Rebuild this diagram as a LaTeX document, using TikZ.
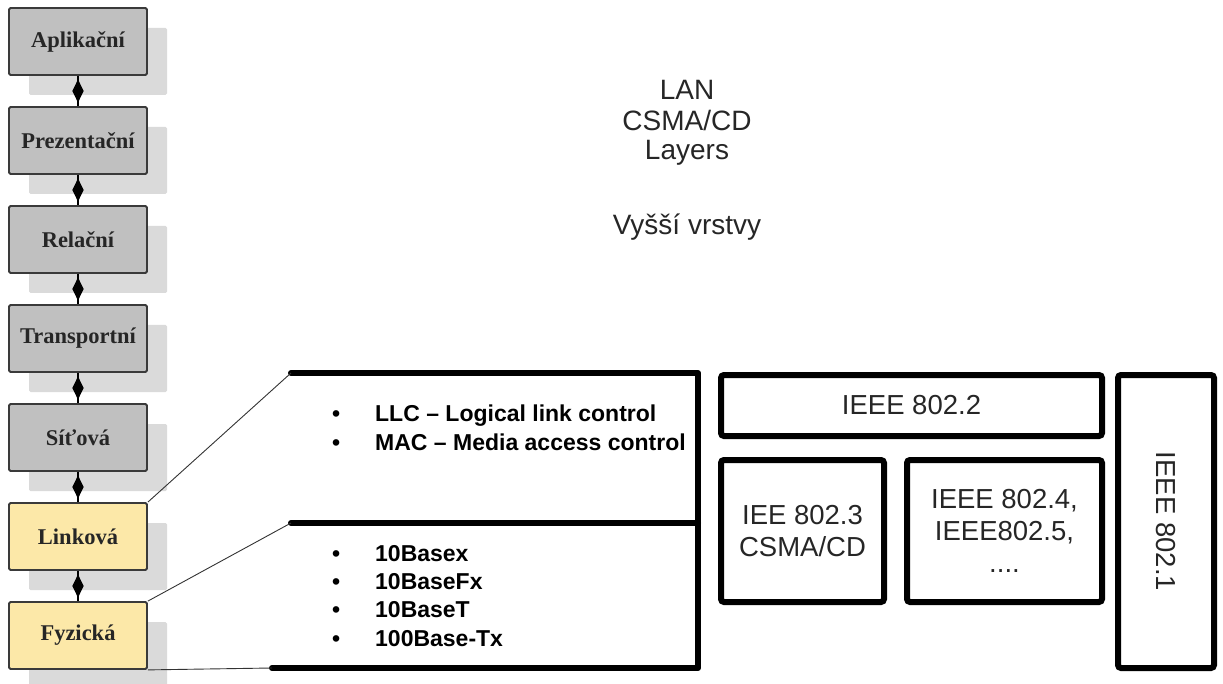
\documentclass[tikz,border=0pt]{standalone}
\usepackage{fontspec}
\setmainfont{Liberation Serif}
\setsansfont{Liberation Sans}
\usetikzlibrary{shadows,shapes.geometric}
\definecolor{laygray}{HTML}{C0C0C0}
\definecolor{layyellow}{HTML}{FCE8A8}
\definecolor{shadowgray}{HTML}{DADADA}
\definecolor{layborder}{HTML}{3A3A3A}
\tikzset{
  layer/.style={draw=layborder, line width=1.8pt, rounded corners=1.5pt, minimum width=138pt, minimum height=67pt,
    inner sep=0pt, font=\fontsize{22.5}{26}\selectfont\bfseries, text=black!85,
    drop shadow={shadow xshift=20pt, shadow yshift=-20pt, fill=shadowgray, opacity=1, draw=none}},
  upper/.style={layer, fill=laygray},
  lower/.style={layer, fill=layyellow},
  dia/.style={diamond, fill=black, inner sep=0pt, minimum width=12pt, minimum height=24pt},
  link/.style={line width=1.8pt, black},
  thinline/.style={line width=0.9pt, black!80},
  heavy/.style={line width=6pt, black, line cap=round, line join=round},
  ieee/.style={draw=black, line width=6pt, rounded corners=3pt, inner sep=0pt, align=center,
    font=\sffamily\fontsize{27.5}{32}\selectfont, text=black!85},
  bul/.style={anchor=base west, inner sep=0pt, font=\sffamily\bfseries\fontsize{23}{26}\selectfont},
  title/.style={anchor=base, inner sep=0pt, font=\sffamily\fontsize{28}{30}\selectfont, text=black!85}
}
\newcommand{\bitem}[1]{\makebox[43pt][l]{\textbullet}#1}
\begin{document}
\begin{tikzpicture}[x=1pt,y=-1pt]
\useasboundingbox (0,0) rectangle (1223,684);

% OSI layers
\node[upper] (apl) at (78,41.5) {Aplikační};
\node[upper] (pre) at (78,140.5) {Prezentační};
\node[upper] (rel) at (78,239.5) {Relační};
\node[upper] (tra) at (78,338.5) {Transportní};
\node[upper] (sit) at (78,437.5) {Síťová};
\node[lower] (lin) at (78,536.5) {Linková};
\node[lower] (fyz) at (78,635.5) {Fyzická};

\foreach \a/\b in {apl/pre,pre/rel,rel/tra,tra/sit,sit/lin,lin/fyz}{
  \draw[link] (\a.south) -- node[dia]{} (\b.north);
}

% titles
\node[title] (t1) at (687,100) {LAN};
\node[title] (t2) at (687,131) {CSMA/CD};
\node[title] (t3) at (687,160) {Layers};
\node[title] (t4) at (687,235) {Vyšší vrstvy};

% bracket
\coordinate (u1) at (291,373);
\coordinate (u2) at (698,373);
\coordinate (m1) at (291,523);
\coordinate (m2) at (698,523);
\coordinate (b1) at (272,668);
\coordinate (b2) at (698,668);
\draw[heavy] (u1) -- (u2) -- (b2) -- (b1);
\draw[heavy] (m1) -- (m2);
\draw[thinline] (lin.north east) -- (u1);
\draw[thinline] (fyz.north east) -- (m1);
\draw[thinline] (fyz.south east) -- (b1);

% bullet lists
\node[bul] (l1) at (332,421) {\bitem{LLC – Logical link control}};
\node[bul] (l2) at (332,450) {\bitem{MAC – Media access control}};
\node[bul] (p1) at (332,561) {\bitem{10Basex}};
\node[bul] (p2) at (332,589.5) {\bitem{10BaseFx}};
\node[bul] (p3) at (332,617.5) {\bitem{10BaseT}};
\node[bul] (p4) at (332,646) {\bitem{100Base-Tx}};

% IEEE boxes
\node[ieee, minimum width=381pt, minimum height=61pt] (i2) at (911.5,405.5) {IEEE 802.2};
\node[ieee, minimum width=163pt, minimum height=142pt] (i3) at (802.5,531) {IEE 802.3\\CSMA/CD};
\node[ieee, minimum width=195pt, minimum height=142pt] (i4) at (1004.5,531) {IEEE 802.4,\\IEEE802.5,\\....};
\node[ieee, minimum width=96pt, minimum height=293pt] (i1) at (1166,521.5) {};
\node[rotate=-90, inner sep=0pt, font=\sffamily\fontsize{27.5}{32}\selectfont, text=black!85] (i1t) at (i1.center) {IEEE 802.1};
\end{tikzpicture}
\end{document}
